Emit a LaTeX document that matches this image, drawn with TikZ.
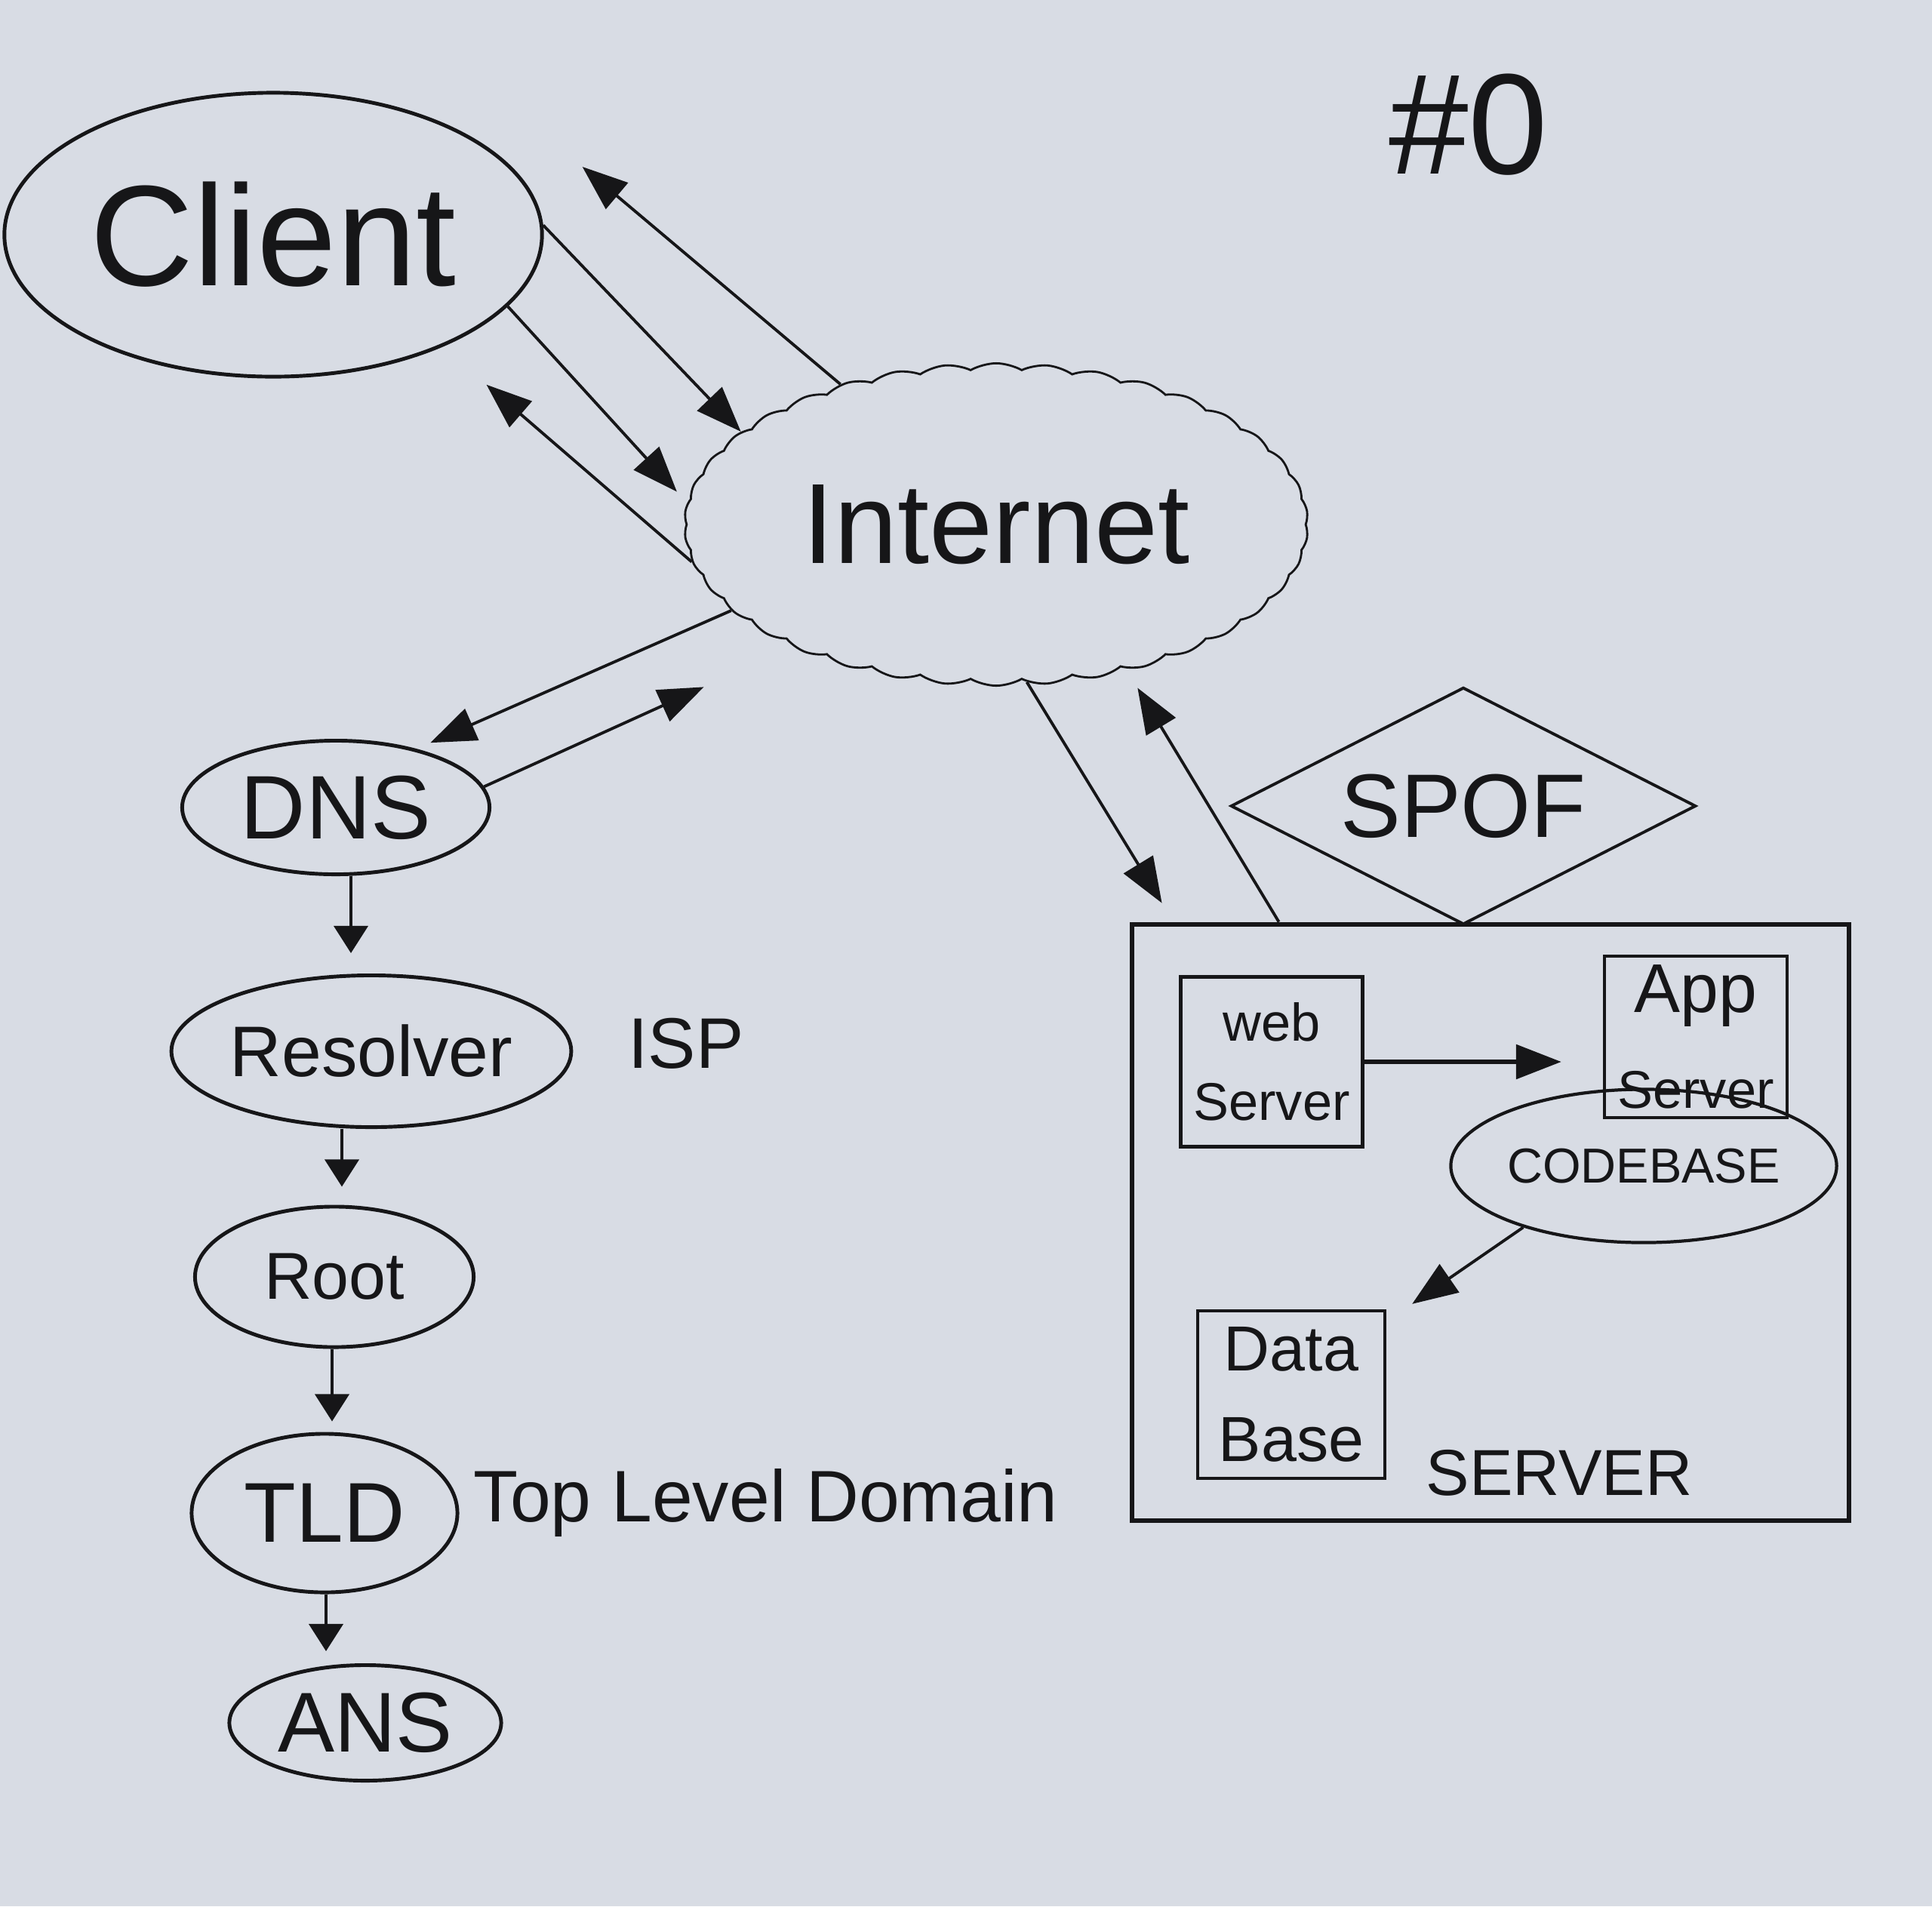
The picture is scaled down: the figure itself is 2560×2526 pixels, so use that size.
\documentclass[tikz,border=0pt]{standalone}
\usepackage{fontspec}
\setmainfont{Liberation Sans}
\usetikzlibrary{shapes.geometric,shapes.symbols,arrows.meta,calc}
\definecolor{paper}{RGB}{216,220,228}
\definecolor{ink}{RGB}{22,22,24}
\begin{document}
\begin{tikzpicture}[x=0.01cm,y=-0.01cm,
  oval/.style={ellipse,draw=ink,line width=1.4pt,inner sep=0pt,text=ink},
  box/.style={rectangle,draw=ink,line width=1.2pt,inner sep=0pt,align=center,text=ink},
  arr/.style={draw=ink,line width=1.1pt,-{Triangle[length=0.6cm,width=0.45cm]}},
  sarr/.style={draw=ink,line width=1.1pt,-{Triangle[length=0.36cm,width=0.45cm]}},
  lbl/.style={text=ink,inner sep=0pt}]
\useasboundingbox (0,0) rectangle (2560,2526);
\fill[paper] (0,0) rectangle (2560,2526);

% --- nodes ---
\node[oval,minimum width=7.12cm,minimum height=3.76cm,font=\fontsize{54}{56}\selectfont] (client) at (362,311) {Client};
\node[cloud,cloud puffs=38,cloud puff arc=60,aspect=2,draw=ink,line width=0.8pt,
      minimum width=8.26cm,minimum height=4.27cm,inner sep=0pt,text=ink,
      font=\fontsize{43}{45}\selectfont] (internet) at (1320,695) {Internet};
\node[lbl,font=\fontsize{54}{56}\selectfont] (num) at (1946,165) {\#0};

\node[oval,minimum width=4.07cm,minimum height=1.77cm,font=\fontsize{34}{36}\selectfont] (dns) at (445,1070) {DNS};
\node[oval,minimum width=5.10cm,minimum height=2.01cm,font=\fontsize{27}{29}\selectfont] (resolver) at (492,1393) {Resolver};
\node[oval,minimum width=3.69cm,minimum height=1.86cm,font=\fontsize{25}{27}\selectfont] (root) at (443,1692) {Root};
\node[oval,minimum width=3.52cm,minimum height=2.10cm,font=\fontsize{32}{34}\selectfont] (tld) at (430,2005) {TLD};
\node[oval,minimum width=3.60cm,minimum height=1.53cm,font=\fontsize{32}{34}\selectfont] (ans) at (484,2283) {ANS};
\node[lbl,font=\fontsize{27}{29}\selectfont] (isp) at (909,1383) {ISP};
\node[lbl,anchor=west,font=\fontsize{27.5}{29}\selectfont] (tldlabel) at (627,1991) {Top Level Domain};

\node[box,line width=1.8pt,minimum width=9.5cm,minimum height=7.9cm] (server) at (1975,1620) {};
\node[diamond,draw=ink,line width=1.1pt,aspect=2,minimum width=6.16cm,minimum height=3.14cm,
      inner sep=0pt,text=ink,font=\fontsize{34}{36}\selectfont] (spof) at (1939,1068) {SPOF};
\node[box,minimum width=2.41cm,minimum height=2.25cm,font=\fontsize{20}{30}\selectfont] (web) at (1685,1407) {web\\Server};
\node[box,minimum width=2.42cm,minimum height=2.14cm,font=\fontsize{20}{30}\selectfont] (app) at (2247,1374) {{\fontsize{26}{30}\selectfont App}\\[6pt]Server};
\node[oval,line width=1.2pt,minimum width=4.65cm,minimum height=2.03cm,font=\fontsize{18.5}{20}\selectfont] (codebase) at (2178,1545) {CODEBASE};
\node[box,minimum width=2.48cm,minimum height=2.22cm,font=\fontsize{24}{34}\selectfont] (database) at (1711,1848) {Data\\Base};
\node[lbl,font=\fontsize{24.5}{26}\selectfont] (serverlbl) at (2066,1952) {SERVER};

% --- connectors: client <-> internet ---
\draw[arr] (client.2) -- (internet.160);
\draw[arr,shorten >=0.2cm] (client.-17) -- (internet.176);
\draw[arr] (internet.138) -- ($(client.east)+(51,-90)$);
\draw[arr] (internet.187) -- ($(client.south east)+(29,64)$);

% --- internet <-> DNS ---
\draw[arr,shorten >=0.2cm] (internet.198) -- (dns.36);
\draw[arr,shorten >=1.3cm] (dns.8) -- (internet.211);

% --- internet <-> server ---
\draw[arr] (internet.-79) -- ($(server.north west)+(43,-25)$);
\draw[arr,shorten >=0.3cm] ($(server.north west)+(198,0)$) -- (internet.-48);

% --- DNS chain ---
\draw[sarr,shorten >=0.27cm] ($(dns.south)+(20,0)$) -- ($(dns.south |- resolver.north)+(20,0)$);
\draw[sarr,shorten >=0.24cm] ($(resolver.south)+(-39,0)$) -- ($(resolver.south |- root.north)+(-39,0)$);
\draw[sarr,shorten >=0.14cm] ($(root.south)+(-3,0)$) -- ($(root.south |- tld.north)+(-3,0)$);
\draw[sarr,shorten >=0.16cm] ($(tld.south)+(2,0)$) -- ($(tld.south |- ans.north)+(2,0)$);

% --- inside server ---
\draw[arr,line width=1.7pt,shorten >=0.55cm] (web.east) -- (web.east -| app.west);
\draw[arr] (codebase.207) -- ($(database.north east)+(34,-7)$);
\end{tikzpicture}
\end{document}
